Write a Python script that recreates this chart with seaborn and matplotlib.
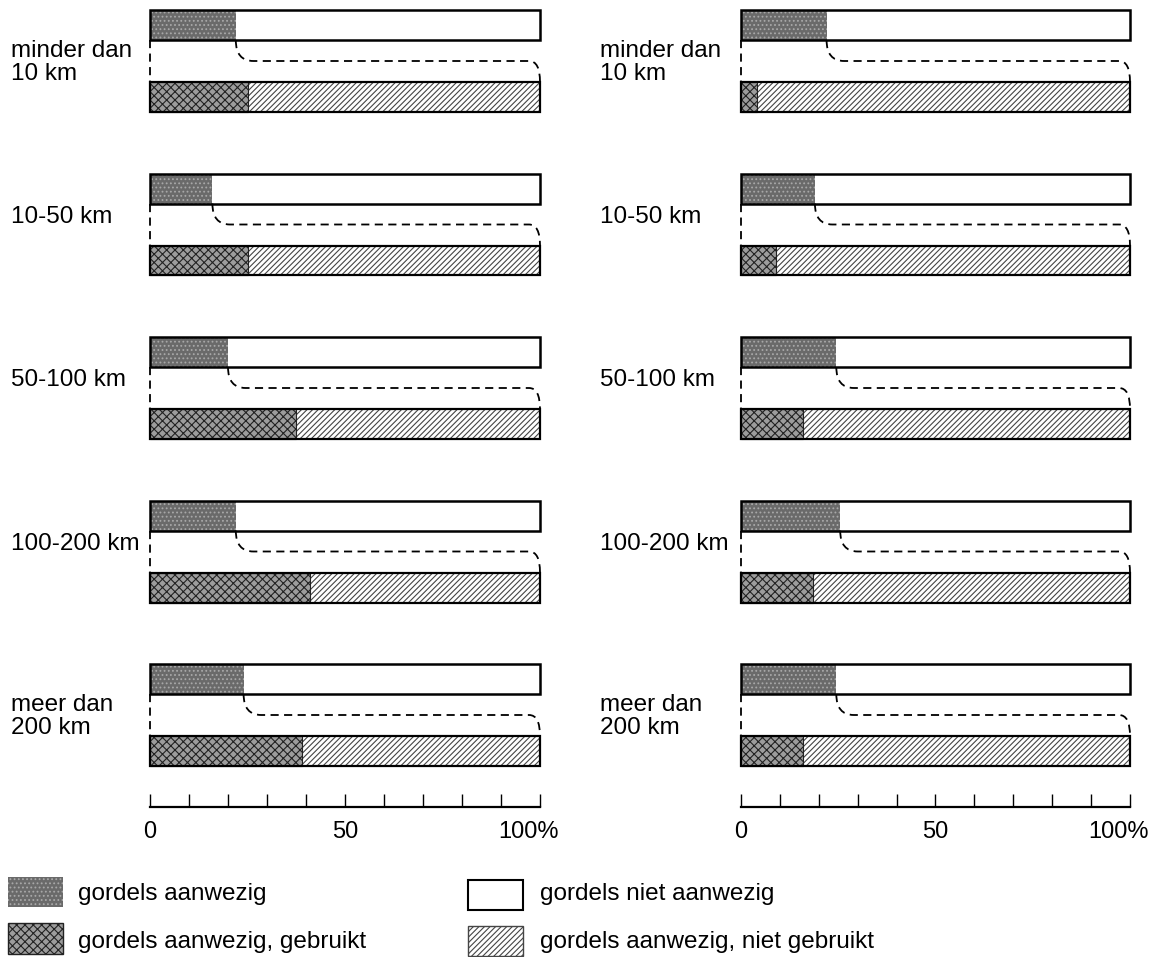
import matplotlib
matplotlib.use("Agg")
import matplotlib.pyplot as plt
import seaborn as sns
import numpy as np
from matplotlib.path import Path
from matplotlib.patches import PathPatch, Rectangle

# ---------------- data ----------------
categories = ["minder dan\n10 km", "10-50 km", "50-100 km", "100-200 km", "meer dan\n200 km"]
left_present = [22, 16, 20, 22, 24]        # gordels aanwezig (%)
left_used = [25, 25, 37.5, 41, 39]         # gordels aanwezig, gebruikt (%)
right_present = [22, 19, 24.5, 25.5, 24.5]
right_used = [4, 9, 16, 18.5, 16]
full_values = [100, 100, 100, 100, 100]
tick_values = [0, 10, 20, 30, 40, 50, 60, 70, 80, 90, 100]
tick_labels = ["0", "", "", "", "", "50", "", "", "", "", ""]
last_tick_label = "100%"
legend_labels = ["gordels aanwezig", "gordels niet aanwezig",
                 "gordels aanwezig, gebruikt", "gordels aanwezig, niet gebruikt"]

# ---------------- style ----------------
plt.rcParams["font.family"] = ["Liberation Sans", "DejaVu Sans"]
plt.rcParams["hatch.linewidth"] = 0.8

W, H = 1167, 957
fig = plt.figure(figsize=(W / 100, H / 100), dpi=100)

GROUP_PX = 163.5
CENTER0_PX = 61
AX_BOTTOM_PX = 807
BAR_H = 30 / GROUP_PX
OFF = 36 / GROUP_PX
y_top_lim = -CENTER0_PX / GROUP_PX
y_bot_lim = (AX_BOTTOM_PX - CENTER0_PX) / GROUP_PX

pos = np.arange(len(categories))
top_pos = pos - OFF
bot_pos = pos + OFF

PRESENT_FC, PRESENT_HC = "#6a6a6a", "#a8a8a8"
USED_FC, USED_HC = "#9c9c9c", "#222222"
NOTUSED_FC, NOTUSED_HC = "white", "#454545"


def bars(ax, values, positions, **kw):
    sns.barplot(x=values, y=positions, orient="y", native_scale=True,
                width=BAR_H, errorbar=None, saturation=1, ax=ax, **kw)


def panel(ax, present, used):
    # top bar: present vs not present
    bars(ax, full_values, top_pos, color="white", linewidth=0)
    bars(ax, present, top_pos, color=PRESENT_FC, hatch="....",
         edgecolor=PRESENT_HC, linewidth=0)
    bars(ax, full_values, top_pos, color="black", fill=False, linewidth=1.8)
    # bottom bar: used vs not used
    bars(ax, full_values, bot_pos, color=NOTUSED_FC, hatch="//////",
         edgecolor=NOTUSED_HC, linewidth=0)
    bars(ax, used, bot_pos, color=USED_FC, hatch="xxxx",
         edgecolor=USED_HC, linewidth=0.8)
    bars(ax, full_values, bot_pos, color="black", fill=False, linewidth=1.6)
    for p in ax.patches:
        p.set_clip_on(False)

    # dashed connectors
    rx1, rx2, ry = 4.5, 2.8, 0.128
    for i, p in enumerate(present):
        yt, yb, ym = i - ry, i + ry, i
        verts = [(p, yt), (p, ym), (p + rx1, ym), (100 - rx2, ym),
                 (100, ym), (100, yb)]
        codes = [Path.MOVETO, Path.CURVE3, Path.CURVE3, Path.LINETO,
                 Path.CURVE3, Path.CURVE3]
        ax.add_patch(PathPatch(Path(verts, codes), fill=False, edgecolor="black",
                               linewidth=1.3, linestyle=(0, (4.5, 3)),
                               clip_on=False))
        ax.plot([0, 0], [yt, yb], color="black", linewidth=1.3,
                linestyle=(0, (4.5, 3)), clip_on=False)

    ax.set_xlim(0, 100)
    ax.set_ylim(y_bot_lim, y_top_lim)
    for s in ("left", "top", "right"):
        ax.spines[s].set_visible(False)
    ax.spines["bottom"].set_linewidth(1.6)
    ax.spines["bottom"].set_color("black")
    ax.set_yticks([])
    ax.set_xticks(tick_values)
    ax.set_xticklabels(tick_labels)
    ax.tick_params(axis="x", direction="in", length=9.5, width=1.0,
                   pad=10, labelsize=17, colors="black")
    ax.annotate(last_tick_label, xy=(100, 0), xycoords=("data", "axes fraction"),
                xytext=(-11, -14), textcoords="offset pixels",
                ha="center", va="top", fontsize=17)
    ax.set_xlabel("")
    ax.set_ylabel("")
    ax.set_facecolor("none")


ax_l = fig.add_axes([150 / W, 1 - AX_BOTTOM_PX / H, 390 / W, AX_BOTTOM_PX / H])
ax_r = fig.add_axes([741 / W, 1 - AX_BOTTOM_PX / H, 389 / W, AX_BOTTOM_PX / H])
panel(ax_l, left_present, left_used)
panel(ax_r, right_present, right_used)

# category labels
for x_px in (11, 600):
    for i, lab in enumerate(categories):
        lines = lab.split("\n")
        cy = CENTER0_PX + i * GROUP_PX
        if len(lines) == 1:
            baselines = [cy - 1.5]
        else:
            baselines = [cy - 4, cy + 18.5]
        for ln, b in zip(lines, baselines):
            fig.text(x_px / W, 1 - b / H, ln, ha="left", va="baseline", fontsize=17.5)

# legend
leg_items = [
    (8, 877, 55, 30, dict(facecolor=PRESENT_FC, hatch="....", edgecolor=PRESENT_HC, linewidth=0), legend_labels[0], 78, 900),
    (468, 880, 55, 30, dict(facecolor="white", edgecolor="black", linewidth=1.5), legend_labels[1], 540, 900),
    (8, 923, 55, 31, dict(facecolor=USED_FC, hatch="xxxx", edgecolor=USED_HC, linewidth=1.0), legend_labels[2], 78, 948),
    (468, 926, 55, 30, dict(facecolor=NOTUSED_FC, hatch="//////", edgecolor=NOTUSED_HC, linewidth=1.0), legend_labels[3], 540, 948),
]
for x, y, w, h, st, lab, tx, tb in leg_items:
    fig.add_artist(Rectangle((x / W, 1 - (y + h) / H), w / W, h / H,
                             transform=fig.transFigure, **st))
    fig.text(tx / W, 1 - tb / H, lab, ha="left", va="baseline", fontsize=17.5)

fig.savefig("out.png", dpi=100, facecolor="white")
